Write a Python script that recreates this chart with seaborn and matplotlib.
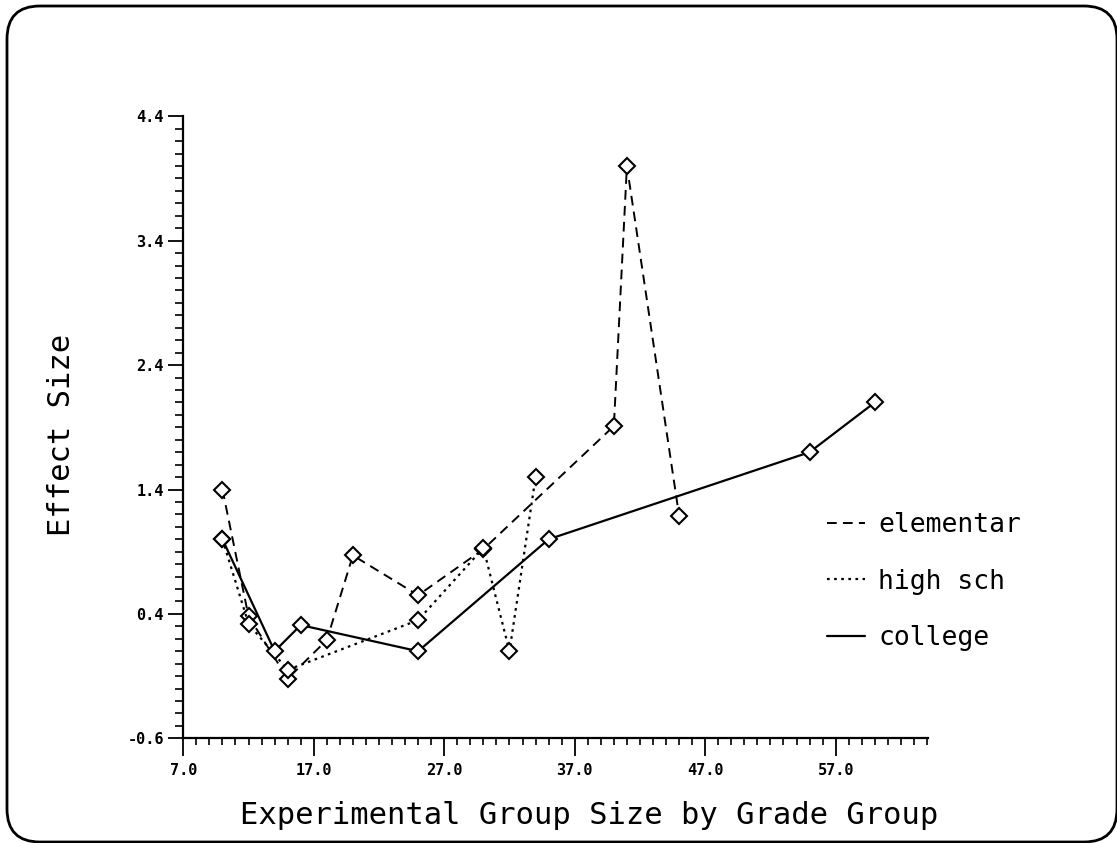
import matplotlib
matplotlib.use("Agg")
import matplotlib.pyplot as plt
from matplotlib.patches import FancyBboxPatch
from matplotlib.lines import Line2D
from matplotlib.ticker import MultipleLocator, FixedLocator, FormatStrFormatter
from matplotlib.transforms import IdentityTransform
import seaborn as sns
import pandas as pd

# Effect size by experimental group size, one series per grade group
elem_size = [10, 12, 15, 18, 20, 25, 30, 40, 41, 45]
elem_effect = [1.40, 0.38, -0.12, 0.19, 0.87, 0.55, 0.92, 1.91, 4.00, 1.19]

high_size = [10, 12, 15, 25, 30, 32, 34]
high_effect = [1.00, 0.32, -0.05, 0.35, 0.93, 0.10, 1.50]

coll_size = [10, 14, 16, 25, 35, 55, 60]
coll_effect = [1.00, 0.10, 0.31, 0.10, 1.00, 1.70, 2.10]

series_names = ["elementar", "high sch", "college"]
y_ticks = [-0.6, 0.4, 1.4, 2.4, 3.4, 4.4]
x_ticks = [7.0, 17.0, 27.0, 37.0, 47.0, 57.0]

sns.set_style("white")
plt.rcParams["font.family"] = ["DejaVu Sans Mono", "DejaVu Sans"]
plt.rcParams["text.color"] = "black"
plt.rcParams["axes.labelcolor"] = "black"
plt.rcParams["xtick.color"] = "black"
plt.rcParams["ytick.color"] = "black"

W, H = 1117, 843
fig = plt.figure(figsize=(W / 100, H / 100), dpi=100)
ax = fig.add_axes([183.3 / W, (H - 738.3) / H, 745.0 / W, 622.0 / H])

styles = {
    "elementar": (0, (5, 3.2)),
    "high sch": (0, (1.2, 2.0)),
    "college": "-",
}
widths = {"elementar": 1.4, "high sch": 1.6, "college": 1.6}

frames = [
    pd.DataFrame({"size": elem_size, "effect": elem_effect, "grade": "elementar"}),
    pd.DataFrame({"size": high_size, "effect": high_effect, "grade": "high sch"}),
    pd.DataFrame({"size": coll_size, "effect": coll_effect, "grade": "college"}),
]

for df in frames:
    name = df["grade"].iloc[0]
    sns.lineplot(
        data=df, x="size", y="effect", ax=ax, color="black",
        linestyle=styles[name], linewidth=widths[name],
        marker="D", markersize=8, markerfacecolor="white",
        markeredgecolor="black", markeredgewidth=1.5,
        sort=False, estimator=None, legend=False,
    )

ax.set_xlim(7, 64.1)
ax.set_ylim(-0.6, 4.4)

for side in ("top", "right"):
    ax.spines[side].set_visible(False)
for side in ("left", "bottom"):
    ax.spines[side].set_linewidth(1.6)
    ax.spines[side].set_color("black")

ax.xaxis.set_major_locator(FixedLocator(x_ticks))
ax.xaxis.set_minor_locator(MultipleLocator(1.0))
ax.yaxis.set_major_locator(FixedLocator(y_ticks))
ax.yaxis.set_minor_locator(MultipleLocator(0.1))
ax.xaxis.set_major_formatter(FormatStrFormatter("%.1f"))
ax.yaxis.set_major_formatter(FormatStrFormatter("%.1f"))

ax.tick_params(axis="x", which="major", direction="out", length=13, width=1.3,
               pad=5, labelsize=11, bottom=True, colors="black")
ax.tick_params(axis="x", which="minor", direction="out", length=5, width=1.2,
               bottom=True, colors="black")
ax.tick_params(axis="y", which="major", direction="out", length=11, width=1.3,
               pad=3, labelsize=11, left=True, colors="black")
ax.tick_params(axis="y", which="minor", direction="out", length=6, width=1.2,
               left=True, colors="black")
for lab in ax.get_xticklabels() + ax.get_yticklabels():
    lab.set_fontweight("bold")

ax.set_xlabel("")
ax.set_ylabel("")
fig.text(589 / W, 1 - 815 / H, "Experimental Group Size by Grade Group",
         ha="center", va="center", fontsize=22, color="black")
fig.text(62 / W, 1 - 435 / H, "Effect Size", ha="center", va="center",
         rotation=90, fontsize=22, color="black")

handles = [
    Line2D([], [], color="black", linestyle=styles[n], linewidth=widths[n])
    for n in series_names
]
leg = fig.legend(handles, series_names, loc="upper left",
                 bbox_to_anchor=(827 / W, 1 - 512 / H), frameon=False,
                 fontsize=19, handlelength=1.45, handletextpad=0.5,
                 labelspacing=1.16, borderaxespad=0, borderpad=0)
for t in leg.get_texts():
    t.set_color("black")

# rounded frame around the whole figure, in pixel coordinates
frame = FancyBboxPatch((7, H - 842), 1110, 836,
                       boxstyle="round,pad=0,rounding_size=33",
                       transform=IdentityTransform(), fill=False,
                       edgecolor="black", linewidth=2.0, clip_on=False)
fig.patches.append(frame)

fig.savefig("out.png", dpi=100, facecolor="white")
